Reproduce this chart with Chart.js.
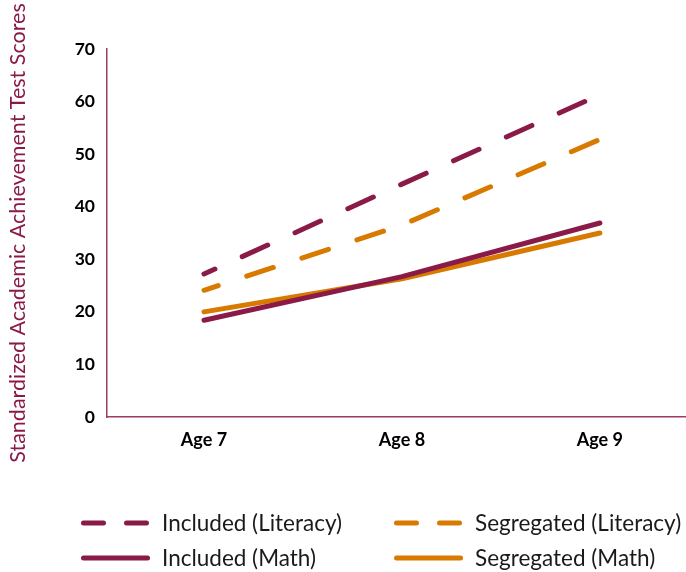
<!DOCTYPE html>
<html>
<head>
<meta charset="utf-8">
<script src="https://cdn.jsdelivr.net/npm/chart.js@4.4.1/dist/chart.umd.min.js"></script>
<style>
    html, body { margin: 0; padding: 0; background: #fff; }
    #wrap { width: 686px; height: 572px; }
</style>
</head>
<body>
<div id="wrap"><canvas id="chart" width="686" height="572"></canvas></div>
<script>
// data
const categories = ['Age 7', 'Age 8', 'Age 9'];
const includedLiteracy = [27.2, 44.3, 61.3];
const segregatedLiteracy = [24.1, 36.5, 52.8];
const includedMath = [18.4, 26.7, 36.9];
const segregatedMath = [20.0, 26.3, 35.0];
const yTicks = [0, 10, 20, 30, 40, 50, 60, 70];

const MAROON = '#8a1a48';
const ORANGE = '#d87a00';

// categories sit on x = 7, 8, 9 of a linear axis (the reference has an uneven left/right margin)
function toPoints(values) {
    return values.map((v, i) => ({ x: 7 + i, y: v }));
}

// two-column legend drawn under the plot
const legendGrid = {
    id: 'legendGrid',
    afterDraw(chart) {
        const ctx = chart.ctx;
        const cols = [81, 394];
        const rows = [523, 558];
        ctx.save();
        chart.data.datasets.forEach((ds, i) => {
            const x = cols[i % 2];
            const y = rows[Math.floor(i / 2)];
            ctx.strokeStyle = ds.borderColor;
            ctx.lineWidth = 5;
            ctx.lineCap = 'round';
            ctx.setLineDash(ds.borderDash ? [20, 23] : []);
            ctx.beginPath();
            ctx.moveTo(x + 2.5, y);
            ctx.lineTo(x + 66.5, y);
            ctx.stroke();
            ctx.setLineDash([]);
            ctx.fillStyle = '#1a1a1a';
            ctx.font = '22.5px Lato';
            ctx.textBaseline = 'middle';
            ctx.fillText(ds.label, x + 81, y + 1);
        });
        ctx.restore();
    }
};

new Chart(document.getElementById('chart'), {
    type: 'line',
    data: {
        datasets: [
            {
                label: 'Included (Literacy)',
                data: toPoints(includedLiteracy),
                borderColor: MAROON,
                borderDash: [28, 30],
                borderDashOffset: 16
            },
            {
                label: 'Segregated (Literacy)',
                data: toPoints(segregatedLiteracy),
                borderColor: ORANGE,
                borderDash: [28, 30],
                borderDashOffset: 13
            },
            {
                label: 'Included (Math)',
                data: toPoints(includedMath),
                borderColor: MAROON
            },
            {
                label: 'Segregated (Math)',
                data: toPoints(segregatedMath),
                borderColor: ORANGE
            }
        ]
    },
    options: {
        responsive: false,
        animation: false,
        layout: { padding: { top: 49, right: 1, bottom: 115, left: 0 } },
        elements: {
            point: { radius: 0 },
            line: { borderWidth: 5, borderCapStyle: 'round', borderJoinStyle: 'round', tension: 0, fill: false }
        },
        plugins: {
            legend: { display: false },
            tooltip: { enabled: false },
            title: { display: false }
        },
        scales: {
            x: {
                type: 'linear',
                min: 6.51,
                max: 9.43,
                afterBuildTicks: (scale) => { scale.ticks = categories.map((c, i) => ({ value: 7 + i })); },
                afterFit: (scale) => { scale.height = 40; },
                grid: { display: false, drawTicks: false },
                border: { display: true, color: '#9c3b64', width: 1.5 },
                ticks: {
                    padding: 12,
                    color: '#000',
                    font: { family: 'Lato', size: 18, weight: 'bold' },
                    callback: (v) => categories[v - 7] || ''
                }
            },
            y: {
                min: 0,
                max: 70,
                afterBuildTicks: (scale) => { scale.ticks = yTicks.map(v => ({ value: v })); },
                afterFit: (scale) => { scale.width = 107; },
                grid: { display: false, drawTicks: false },
                border: { display: true, color: '#9c3b64', width: 1.5 },
                ticks: {
                    padding: 12,
                    color: '#000',
                    font: { family: 'Lato', size: 17.5, weight: 'bold' }
                },
                title: {
                    display: true,
                    text: 'Standardized Academic Achievement Test Scores',
                    color: MAROON,
                    padding: { top: 5, bottom: 0 },
                    font: { family: 'Lato', size: 21.5 }
                }
            }
        }
    },
    plugins: [legendGrid]
});
</script>
</body>
</html>
